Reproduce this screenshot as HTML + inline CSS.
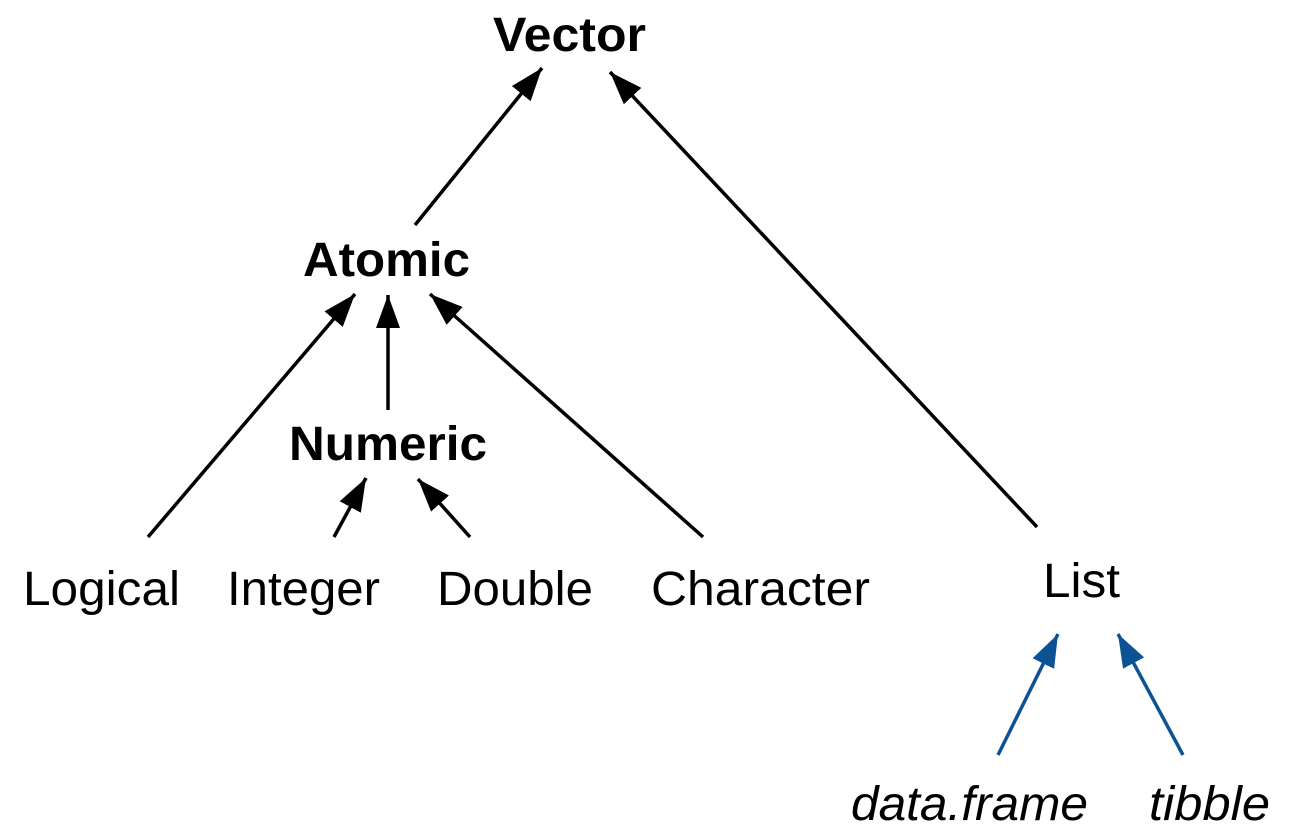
<!DOCTYPE html>
<html><head><meta charset="utf-8"><style>
html,body{margin:0;padding:0;background:#fff;}
svg{display:block;}
text{font-family:"Liberation Sans",Arial,sans-serif;font-size:48px;fill:#000;}
.b{font-weight:bold;}
.i{font-style:italic;}
</style></head><body>
<svg width="1299" height="826" viewBox="0 0 1299 826" xmlns="http://www.w3.org/2000/svg">
<defs>
<marker id="a" markerUnits="userSpaceOnUse" markerWidth="34" markerHeight="26" refX="33" refY="12" orient="auto"><path d="M0,0 L33,12 L0,24 Z" fill="#000"/></marker>
<marker id="c" markerUnits="userSpaceOnUse" markerWidth="34" markerHeight="26" refX="33" refY="12" orient="auto"><path d="M0,0 L33,12 L0,24 Z" fill="#0b5394"/></marker>
</defs>
<g stroke="#000" stroke-width="3.5" fill="none" marker-end="url(#a)">
<line x1="415" y1="225" x2="542" y2="68"/>
<line x1="1037" y1="527" x2="610" y2="72"/>
<line x1="148" y1="537" x2="355" y2="294"/>
<line x1="388" y1="410" x2="388" y2="295"/>
<line x1="703" y1="537" x2="430" y2="294"/>
<line x1="334" y1="537" x2="366" y2="478"/>
<line x1="470" y1="537" x2="418" y2="479"/>
</g>
<g stroke="#0b5394" stroke-width="3.5" fill="none" marker-end="url(#c)">
<line x1="998" y1="755" x2="1058" y2="634"/>
<line x1="1183" y1="755" x2="1118" y2="634"/>
</g>
<g lengthAdjust="spacingAndGlyphs">
<text class="b" x="493" y="51" textLength="153" lengthAdjust="spacingAndGlyphs">Vector</text>
<text class="b" x="303" y="276" textLength="167" lengthAdjust="spacingAndGlyphs">Atomic</text>
<text class="b" x="289" y="460" textLength="198" lengthAdjust="spacingAndGlyphs">Numeric</text>
<text x="23" y="605" textLength="157" lengthAdjust="spacingAndGlyphs">Logical</text>
<text x="227" y="605" textLength="153" lengthAdjust="spacingAndGlyphs">Integer</text>
<text x="437" y="605" textLength="156" lengthAdjust="spacingAndGlyphs">Double</text>
<text x="651" y="605" textLength="219" lengthAdjust="spacingAndGlyphs">Character</text>
<text x="1043" y="597" textLength="77" lengthAdjust="spacingAndGlyphs">List</text>
<text class="i" x="851" y="820" textLength="237" lengthAdjust="spacingAndGlyphs">data.frame</text>
<text class="i" x="1149" y="820" textLength="121" lengthAdjust="spacingAndGlyphs">tibble</text>
</g>
</svg>
</body></html>
